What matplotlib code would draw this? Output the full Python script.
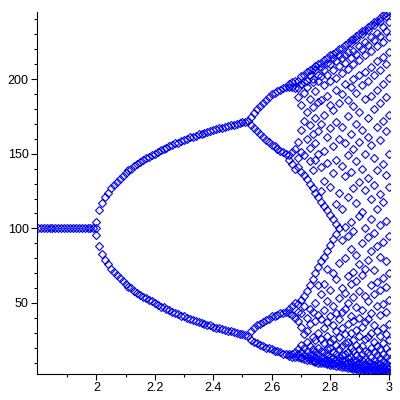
import numpy as np
import matplotlib
matplotlib.use('Agg')
import matplotlib.pyplot as plt

plt.rcParams['font.family'] = ['Liberation Sans', 'DejaVu Sans']

# ponto fixo, r = 1.80 .. 2.00
r_fixed = np.round(np.arange(1.80, 2.0001, 0.01), 2)
y_fixed = [100] * len(r_fixed)

# pontos ainda nao convergidos na bifurcacao
r_bif = [2.0, 2.0]
y_bif = [104.5, 95.5]

# periodo 2, r = 2.01 .. 2.52
r_two = np.round(np.arange(2.01, 2.5201, 0.01), 2)
y_two_up = [112, 117, 121, 124, 127, 129, 131, 133, 135, 137,
            139, 140, 142, 143, 144.5, 146, 147, 148, 149, 150,
            151.5, 152.5, 153, 154, 155, 156, 157, 157.5, 158.5, 159,
            160, 161, 161.5, 162, 163, 163.5, 164, 164.5, 165, 166,
            166.5, 167, 167.5, 168, 168.5, 169, 169.5, 170, 170.5, 171,
            171.5, 172]
y_two_low = [88, 83, 79, 76, 73, 71, 69, 67, 65, 63,
             61, 60, 58, 57, 55.5, 54, 53, 52, 51, 50,
             48.5, 47.5, 47, 46, 45, 44, 43, 42.5, 41.5, 41,
             40, 39, 38.5, 38, 37, 36.5, 36, 35.5, 35, 34,
             33.5, 33, 32.5, 32, 31.5, 31, 30.5, 30, 29.5, 29,
             28.5, 28]

# periodo 4, r = 2.53 .. 2.65
r_four = np.round(np.arange(2.53, 2.6501, 0.01), 2)
y_four_a = [174.5, 177.5, 180, 182, 184, 186, 188, 190, 191, 192, 193, 194, 195]
y_four_b = [169.5, 167, 165, 163, 161, 159, 158, 156, 155, 153.5, 152, 151, 150]
y_four_c = [31, 33, 35, 36, 37.5, 38.5, 39.5, 41, 41.5, 42, 43, 43.5, 44]
y_four_d = [25.5, 24, 23, 22, 21, 20, 19.5, 19, 18, 17.5, 17, 16, 15.5]

# periodo 8 e caos, r = 2.66 .. 3.00
r_chaos = np.round(np.arange(2.66, 3.0001, 0.01), 2)
chaos_cols = [
    [197, 195, 149, 146, 46, 43, 15.5, 14.5],
    [198, 195, 151, 143, 48, 42, 16, 14],
    [199, 194, 153, 140, 50, 40, 17, 13.5],
    [199, 194, 188, 158, 147, 141, 49, 44, 38, 19, 16, 13.5],
    [202, 197, 183, 166, 151, 138, 52, 43, 34, 22, 17, 14, 13],
    [203, 198, 191, 172, 149, 136, 55, 48, 29, 20, 15, 12.5],
    [205, 199, 195, 178, 160, 133, 58, 40, 31, 24, 18, 14, 12],
    [206, 203, 187, 169, 154, 145, 130, 62, 46, 36, 21, 16, 13, 11.5],
    [207, 200, 198, 181, 163, 139, 127, 66, 44, 27, 19, 15, 12, 11],
    [209, 206, 192, 174, 157, 146, 124, 70, 50, 38, 25, 17, 13.5, 11, 10.5],
    [210, 203, 199, 185, 165, 150, 121, 74, 62, 42, 30, 20, 16, 12, 10],
    [211, 208, 202, 186, 170, 141, 125, 118, 78, 56, 39, 26, 18, 14, 11, 10],
    [213, 206, 196, 176, 152, 132, 115, 81, 63, 45, 33, 23, 17, 13, 11, 9.5],
    [214, 211, 203, 189, 161, 144, 112, 85, 73, 51, 37, 28, 19, 15, 12, 10, 9],
    [216, 210, 199, 183, 167, 128, 109, 89, 59, 41, 24, 20, 14, 11, 9.5, 8.5],
    [217, 214, 206, 179, 155, 137, 106, 93, 70, 48, 35, 26, 17, 13, 10, 8.5],
    [218, 212, 201, 193, 171, 146, 116, 103, 96, 66, 43, 31, 22, 16, 12, 9.5, 8],
    [220, 216, 209, 184, 160, 124, 100, 77, 53, 39, 27, 19, 14, 11, 9, 7.5],
    [221, 214, 204, 190, 168, 142, 113, 92, 60, 44, 33, 21, 15, 12, 8.5, 7.2],
    [223, 216, 211, 197, 157, 135, 101, 80, 57, 46, 29, 23, 16, 11, 9, 7],
    [224, 218, 207, 186, 175, 149, 121, 95, 68, 50, 36, 24, 17, 13, 10, 7.5, 6.6],
    [226, 224, 214, 195, 163, 138, 104, 86, 63, 41, 30, 20, 14, 10.5, 8, 6.4],
    [227, 219, 210, 200, 182, 153, 127, 98, 71, 54, 38, 25, 18, 12, 9, 7, 6],
    [229, 227, 217, 191, 170, 145, 117, 82, 65, 47, 32, 22, 15, 11, 8.5, 6.5, 5.6],
    [230, 222, 213, 203, 178, 158, 131, 108, 76, 58, 40, 28, 19, 13, 9.5, 7, 5.8, 5.2],
    [232, 230, 220, 196, 166, 140, 111, 90, 69, 45, 34, 21, 16, 12, 8, 6.2, 5.1],
    [233, 225, 216, 205, 187, 150, 126, 100, 73, 55, 37, 26, 18, 12.5, 9, 6.8, 5.4, 4.8],
    [235, 233, 223, 199, 174, 161, 134, 94, 79, 51, 39, 27, 17, 11, 8, 6, 4.7],
    [236, 228, 219, 208, 189, 156, 120, 106, 85, 62, 43, 30, 20, 14, 10, 7, 5.2, 4.4],
    [238, 236, 226, 203, 180, 147, 129, 97, 72, 56, 35, 24, 17, 12, 8.5, 6.3, 4.9, 4.2],
    [239, 231, 222, 212, 193, 168, 139, 113, 88, 64, 48, 31, 21, 15, 10, 7.5, 5.5, 4.3, 3.9],
    [241, 239, 229, 206, 184, 159, 123, 102, 81, 59, 42, 28, 19, 13, 9, 6.5, 5, 3.7],
    [243, 235, 225, 215, 197, 172, 143, 118, 91, 67, 49, 33, 23, 16, 11, 7.8, 5.6, 4.2, 3.4],
    [244, 242, 232, 210, 188, 165, 136, 105, 78, 61, 44, 29, 20, 14, 9.5, 6.8, 4.8, 3.6, 3.2],
    [246, 238, 228, 218, 201, 176, 150, 128, 95, 70, 52, 36, 25, 17, 11.5, 8, 5.5, 4, 3.1],
]

x_ticks = [2, 2.2, 2.4, 2.6, 2.8, 3]
x_labels = ['2', '2.2', '2.4', '2.6', '2.8', '3']
y_ticks = [50, 100, 150, 200]

fig = plt.figure(figsize=(4, 4), dpi=100)
ax = fig.add_axes([0.0925, 0.065, 0.8825, 0.905])

estilo = dict(linestyle='none', marker='D', markersize=3.6, markerfacecolor='none',
              markeredgecolor='#0000ff', markeredgewidth=0.8)

ax.plot(r_fixed, y_fixed, **estilo)
ax.plot(r_bif, y_bif, **estilo)
ax.plot(r_two, y_two_up, **estilo)
ax.plot(r_two, y_two_low, **estilo)
for ramo in [y_four_a, y_four_b, y_four_c, y_four_d]:
    ax.plot(r_four, ramo, **estilo)

# caos: junta as colunas
r_pts = np.repeat(r_chaos, [len(c) for c in chaos_cols])
y_pts = np.concatenate([np.array(c, dtype=float) for c in chaos_cols])
ax.plot(r_pts, y_pts, **estilo)

ax.set_xlim(1.797, 3.005)
ax.set_ylim(2.4, 245)

ax.spines['top'].set_visible(False)
ax.spines['right'].set_visible(False)

ax.set_xticks(x_ticks, labels=x_labels)
ax.set_xticks(np.arange(1.9, 3.0, 0.2), minor=True)
ax.set_yticks(y_ticks)
ax.set_yticks([10, 20, 30, 40, 60, 70, 80, 90, 110, 120, 130, 140, 160, 170, 180, 190, 210, 220, 230, 240], minor=True)
ax.tick_params(which='major', length=4, width=0.8, labelsize=9, pad=2)
ax.tick_params(which='minor', length=2.5, width=0.8)

fig.savefig('out.png', dpi=100)
